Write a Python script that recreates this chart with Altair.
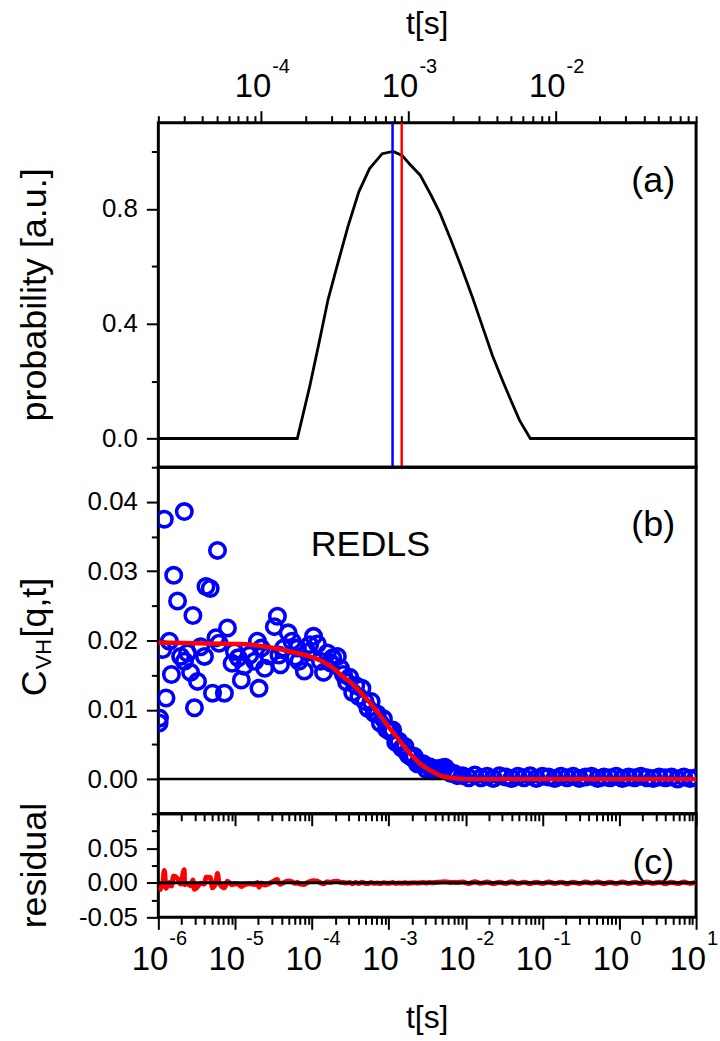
import altair as alt
import pandas as pd

# ---------------- panel (a): distribution of relaxation times ----------------
A_LOG_T = [-4.699, -3.755, -3.669, -3.607, -3.546, -3.485, -3.411, -3.337, -3.264,
           -3.178, -3.104, -3.043, -2.994, -2.920, -2.847, -2.785, -2.712, -2.638,
           -2.564, -2.491, -2.429, -2.356, -2.294, -2.245, -2.172, -1.046]
A_PROB = [0.0, 0.0, 0.185, 0.334, 0.484, 0.600, 0.738, 0.859, 0.940,
          0.992, 1.0, 0.986, 0.957, 0.917, 0.848, 0.784, 0.692, 0.594,
          0.490, 0.381, 0.288, 0.196, 0.121, 0.063, 0.0, 0.0]
LINE_T = [7.8e-4, 9.0e-4]
LINE_COLOR = ["#0000ff", "#ff0000"]

# ---------------- panel (b): C_VH[q,t] data (log10 t, value) ----------------
B_LOG_T_EARLY = [-5.99, -5.985, -5.943, -5.922, -5.90, -5.857, -5.83, -5.80, -5.75, -5.71,
                 -5.662, -5.66, -5.62, -5.58, -5.55, -5.53, -5.49, -5.45, -5.40, -5.38,
                 -5.325, -5.295, -5.25, -5.23, -5.21, -5.14, -5.10, -5.04, -5.01, -4.96,
                 -4.92, -4.885, -4.81, -4.745, -4.71, -4.69, -4.66, -4.615, -4.56, -4.49,
                 -4.45, -4.43, -4.41, -4.37, -4.31, -4.26, -4.22, -4.19, -4.17, -4.10,
                 -4.06, -4.03, -3.98, -3.93, -3.89, -3.85, -3.80, -3.76, -3.73, -3.67,
                 -3.63, -3.59]
B_C_EARLY = [0.0081, 0.0088, 0.0187, 0.0375, 0.0117, 0.0199, 0.0151, 0.0294, 0.0257, 0.0177,
             0.0386, 0.0170, 0.0182, 0.0154, 0.0236, 0.0103, 0.0141, 0.0191, 0.0177, 0.0278,
             0.0275, 0.0124, 0.0204, 0.0330, 0.0196, 0.0124, 0.0218, 0.0167, 0.0184, 0.0175,
             0.0143, 0.0163, 0.0179, 0.0170, 0.0199, 0.0131, 0.0189, 0.0160, 0.0178, 0.0220,
             0.0235, 0.0179, 0.0165, 0.0189, 0.0211, 0.0199, 0.0176, 0.0189, 0.0170, 0.0156,
             0.0183, 0.0194, 0.0206, 0.0195, 0.0170, 0.0154, 0.0182, 0.0168, 0.0175, 0.0177,
             0.0160, 0.0151]
B_LOG_T_DECAY = [-3.55, -3.51, -3.47, -3.43, -3.39, -3.35, -3.31, -3.27, -3.23, -3.19,
                 -3.15, -3.11, -3.07, -3.03, -2.99, -2.95, -2.91, -2.87, -2.83, -2.79,
                 -2.75, -2.71, -2.67, -2.63, -2.59, -2.55, -2.51, -2.47, -2.43, -2.39,
                 -2.35, -2.31, -2.27, -2.23, -2.19, -2.15, -2.11]
B_C_DECAY = [0.0140, 0.0147, 0.0125, 0.0135, 0.0119, 0.0131, 0.0112, 0.0102, 0.0112, 0.0095,
             0.0094, 0.0081, 0.0087, 0.0072, 0.0069, 0.0071, 0.0053, 0.0055, 0.0045, 0.0047,
             0.0035, 0.0032, 0.0033, 0.0022, 0.0022, 0.0022, 0.0014, 0.0018, 0.0012, 0.0015,
             0.0015, 0.0016, 0.0017, 0.0012, 0.0008, 0.0008, 0.0005]
B_LOG_T_TAIL = [-2.04, -1.96, -1.88, -1.80, -1.72, -1.64, -1.56, -1.48, -1.40, -1.32,
                -1.24, -1.16, -1.08, -1.00, -0.92, -0.84, -0.76, -0.68, -0.60, -0.52,
                -0.44, -0.36, -0.28, -0.20, -0.12, -0.04, 0.04, 0.12, 0.20, 0.28,
                0.36, 0.44, 0.52, 0.60, 0.68, 0.76, 0.84, 0.92, 1.00]
B_C_TAIL = [0.0005, 0.0002, 0.0006, 0.0002, 0.0004, 0.0001, 0.0005, 0.0003, 0.0001, 0.0004,
            0.0002, 0.0005, 0.0001, 0.0004, 0.0003, 0.0001, 0.0004, 0.0002, 0.0004, 0.0001,
            0.0003, 0.0004, 0.0001, 0.0003, 0.0002, 0.0004, 0.0001, 0.0003, 0.0002, 0.0004,
            0.0002, 0.0001, 0.0003, 0.0002, 0.0003, 0.0000, 0.0003, 0.0001, 0.0002]

# fit curve (red)
FIT_LOG_T = [-6.0, -5.5, -5.0, -4.8, -4.6, -4.4, -4.2, -4.0, -3.8, -3.7,
             -3.6, -3.5, -3.4, -3.3, -3.2, -3.1, -3.0, -2.9, -2.8, -2.7,
             -2.6, -2.5, -2.4, -2.3, -2.2, -2.1, -2.0, -1.5, 1.0]
FIT_C = [0.0197, 0.0196, 0.0195, 0.0194, 0.0191, 0.0187, 0.0182, 0.0176, 0.0166, 0.0158,
         0.0148, 0.0140, 0.0129, 0.0117, 0.0104, 0.0090, 0.0075, 0.0061, 0.0047, 0.0034,
         0.0023, 0.0015, 0.0009, 0.0004, 0.0002, 0.0001, 0.0, 0.0, 0.0]

# ---------------- panel (c): residual at the same lag times ----------------
R_EARLY = [-0.0115, -0.0108, -0.0009, 0.0179, -0.0079, 0.0003, -0.0045, 0.0098, 0.0061, -0.0019,
           0.0190, -0.0026, -0.0014, -0.0042, 0.0040, -0.0093, -0.0055, -0.0005, -0.0019, 0.0082,
           0.0079, -0.0072, 0.0008, 0.0134, 0.0000, -0.0072, 0.0022, -0.0029, -0.0012, -0.0020,
           -0.0052, -0.0032, -0.0015, -0.0024, 0.0006, -0.0062, -0.0003, -0.0031, -0.0012, 0.0031,
           0.0047, -0.0009, -0.0022, 0.0003, 0.0026, 0.0015, -0.0007, 0.0007, -0.0012, -0.0023,
           0.0005, 0.0017, 0.0031, 0.0024, 0.0001, -0.0014, 0.0016, 0.0006, 0.0016, 0.0022,
           0.0008, 0.0005]
R_DECAY = [-0.0004, 0.0006, -0.0012, 0.0003, -0.0009, 0.0008, -0.0006, -0.0011, 0.0004, -0.0008,
           -0.0003, -0.0010, 0.0002, -0.0007, -0.0005, 0.0003, -0.0009, -0.0002, -0.0006, 0.0001,
           -0.0005, -0.0003, 0.0002, -0.0004, 0.0000, 0.0003, -0.0002, 0.0004, 0.0001, 0.0006,
           0.0009, 0.0012, 0.0014, 0.0010, 0.0006, 0.0007, 0.0004]
R_TAIL = [0.0012, -0.0010, 0.0015, -0.0008, 0.0011, -0.0013, 0.0009, -0.0010, 0.0014, -0.0009,
          0.0010, -0.0012, 0.0008, -0.0011, 0.0013, -0.0009, 0.0010, -0.0012, 0.0009, -0.0010,
          0.0012, -0.0008, 0.0011, -0.0013, 0.0009, -0.0010, 0.0012, -0.0009, 0.0010, -0.0011,
          0.0013, -0.0008, 0.0010, -0.0012, 0.0009, -0.0010, 0.0011, -0.0009, 0.0010]

# tick labels (powers of ten)
TOP_EXP = ["-4", "-3", "-2"]
BOTTOM_EXP = ["-6", "-5", "-4", "-3", "-2", "-1", "0", "1"]
A_YTICKS = [0.0, 0.2, 0.4, 0.6, 0.8, 1.0]
B_YTICKS = [-0.005, 0.0, 0.005, 0.01, 0.015, 0.02, 0.025, 0.03, 0.035, 0.04, 0.045]
C_YTICKS = [-0.05, -0.025, 0.0, 0.025, 0.05, 0.075]

# ---------------- tables ----------------
logt_b = B_LOG_T_EARLY + B_LOG_T_DECAY + B_LOG_T_TAIL
dfa = pd.DataFrame({"t": [10 ** v for v in A_LOG_T], "p": A_PROB})
dfl = pd.DataFrame({"t": LINE_T, "col": LINE_COLOR})
dfb = pd.DataFrame({"t": [10 ** v for v in logt_b], "c": B_C_EARLY + B_C_DECAY + B_C_TAIL})
dff = pd.DataFrame({"t": [10 ** v for v in FIT_LOG_T], "c": FIT_C})
dfc = pd.DataFrame({"t": [10 ** v for v in logt_b], "r": R_EARLY + R_DECAY + R_TAIL})
dft = pd.DataFrame({"t": [10.0 ** int(e) for e in TOP_EXP], "base": "10", "exp": TOP_EXP})
dfbt = pd.DataFrame({"t": [10.0 ** int(e) for e in BOTTOM_EXP], "base": "10", "exp": BOTTOM_EXP})
zero_b = pd.DataFrame({"c": [0.0]})
zero_c = pd.DataFrame({"r": [0.0]})
one = pd.DataFrame({"k": [0]})

TOP_TICKS = [m * 10.0 ** e for e in (-5, -4, -3, -2) for m in range(1, 10)
             if 1.99e-5 <= m * 10.0 ** e <= 0.0901]
BOT_TICKS = [m * 10.0 ** e for e in range(-6, 1) for m in range(1, 10)] + [10.0]

FONT = "Liberation Sans"
W, HA, HB, HC = 540, 346, 348, 104
BLUE, RED = "#0000ff", "#ff0000"

LOG_MAJOR = "abs(log(datum.value)/LN10 - round(log(datum.value)/LN10)) < 0.01"


def dash(test):
    return {"condition": {"test": test, "value": [20, 0]}, "value": [7, 40]}


def xaxis(orient, values):
    return alt.Axis(orient=orient, values=values, labels=False, title=None, grid=False,
                    domain=False, tickSize=12, tickWidth=2, tickColor="black",
                    tickDash=dash(LOG_MAJOR))


def yaxis(values, major_test, fmt):
    lab = ("(%s) ? replace(format(datum.value, '%s'), '\u2212', '-') : ''" % (major_test, fmt))
    return alt.Axis(orient="left", values=values, title=None, grid=False, domain=False,
                    tickSize=12, tickWidth=2, tickColor="black", tickDash=dash(major_test),
                    labelExpr=lab, labelFont=FONT, labelFontSize=26, labelColor="black",
                    labelPadding=9)


def txt(text, x, y, size, **kw):
    return alt.Chart(one).mark_text(font=FONT, fontSize=size, color="black", **kw).encode(
        x=alt.value(x), y=alt.value(y), text=alt.value(text))


# ---------------- panel (a) ----------------
xa = alt.X("t:Q", scale=alt.Scale(type="log", domain=[2e-5, 0.09], nice=False),
           axis=xaxis("top", TOP_TICKS))
ya = alt.Y("p:Q", scale=alt.Scale(domain=[-0.1, 1.1], nice=False, zero=False),
           axis=yaxis(A_YTICKS, "abs(datum.value/0.4 - round(datum.value/0.4)) < 0.001", ".1f"))

pa_curve = alt.Chart(dfa).mark_line(color="black", strokeWidth=2.8).encode(x=xa, y=ya)
pa_lines = alt.Chart(dfl).mark_rule(strokeWidth=2.5).encode(x=xa, color=alt.Color("col:N", scale=None))
pa_base = alt.Chart(dft).mark_text(font=FONT, fontSize=33, align="right", baseline="alphabetic",
                                   dx=10, color="black").encode(x=xa, y=alt.value(-26), text="base:N")
pa_exp = alt.Chart(dft).mark_text(font=FONT, fontSize=20, align="left", baseline="alphabetic",
                                  dx=11, color="black").encode(x=xa, y=alt.value(-50), text="exp:N")
panel_a = alt.layer(
    pa_curve, pa_lines, pa_base, pa_exp,
    txt("(a)", 497, 59, 36, baseline="middle"),
    txt("t[s]", W / 2, -89, 32, baseline="alphabetic"),
    txt("probability [a.u.]", -124, HA / 2, 36, angle=270, baseline="middle"),
).properties(width=W, height=HA)

# ---------------- panel (b) ----------------
xb = alt.X("t:Q", scale=alt.Scale(type="log", domain=[1e-6, 10], nice=False),
           axis=xaxis("bottom", BOT_TICKS))
yb = alt.Y("c:Q", scale=alt.Scale(domain=[-0.005, 0.045], nice=False, zero=False),
           axis=yaxis(B_YTICKS, "abs(datum.value*100 - round(datum.value*100)) < 0.001", ".2f"))

pb_zero = alt.Chart(zero_b).mark_rule(color="black", strokeWidth=2.5).encode(y=yb)
pb_pts = alt.Chart(dfb).mark_point(shape="circle", filled=False, size=240, strokeWidth=3.6,
                                   color=BLUE, opacity=1, clip=True).encode(x=xb, y=yb)
pb_fit = alt.Chart(dff).mark_line(color=RED, strokeWidth=4.5, interpolate="monotone",
                                  clip=True).encode(x=xb, y=yb)
panel_b = alt.layer(
    pb_pts, pb_zero, pb_fit,
    txt("(b)", 497, 58, 36, baseline="middle"),
    txt("REDLS", 213, 78, 36, baseline="middle"),
    txt("C", -124, 230, 36, angle=270, align="left", baseline="middle"),
    txt("VH", -115, 203, 22, angle=270, align="left", baseline="middle"),
    txt("[q,t]", -124, 171, 36, angle=270, align="left", baseline="middle"),
).properties(width=W, height=HB)

# ---------------- panel (c) ----------------
yc = alt.Y("r:Q", scale=alt.Scale(domain=[-0.05, 0.1], nice=False, zero=False),
           axis=yaxis(C_YTICKS, "abs(datum.value*20 - round(datum.value*20)) < 0.001", ".2f"))
pc_res = alt.Chart(dfc).mark_line(color=RED, strokeWidth=5, interpolate="monotone",
                                  clip=True).encode(x=xb, y=yc)
pc_zero = alt.Chart(zero_c).mark_rule(color="black", strokeWidth=3).encode(y=yc)
pc_base = alt.Chart(dfbt).mark_text(font=FONT, fontSize=33, align="right", baseline="alphabetic",
                                    dx=10, color="black").encode(x=xb, y=alt.value(HC + 53), text="base:N")
pc_exp = alt.Chart(dfbt).mark_text(font=FONT, fontSize=20, align="left", baseline="alphabetic",
                                   dx=11, color="black").encode(x=xb, y=alt.value(HC + 28), text="exp:N")
panel_c = alt.layer(
    pc_res, pc_zero, pc_base, pc_exp,
    txt("(c)", 497, 49, 36, baseline="middle"),
    txt("t[s]", W / 2, HC + 111, 32, baseline="alphabetic"),
    txt("residual", -124, HC / 2, 36, angle=270, baseline="middle"),
).properties(width=W, height=HC)

chart = alt.vconcat(panel_a, panel_b, panel_c, spacing=0, bounds="flush").properties(
    padding={"left": 15, "top": 4, "right": 0, "bottom": 0}
).configure_view(stroke="black", strokeWidth=3)

chart.save("out.html", embed_options={"renderer": "svg", "actions": False})
